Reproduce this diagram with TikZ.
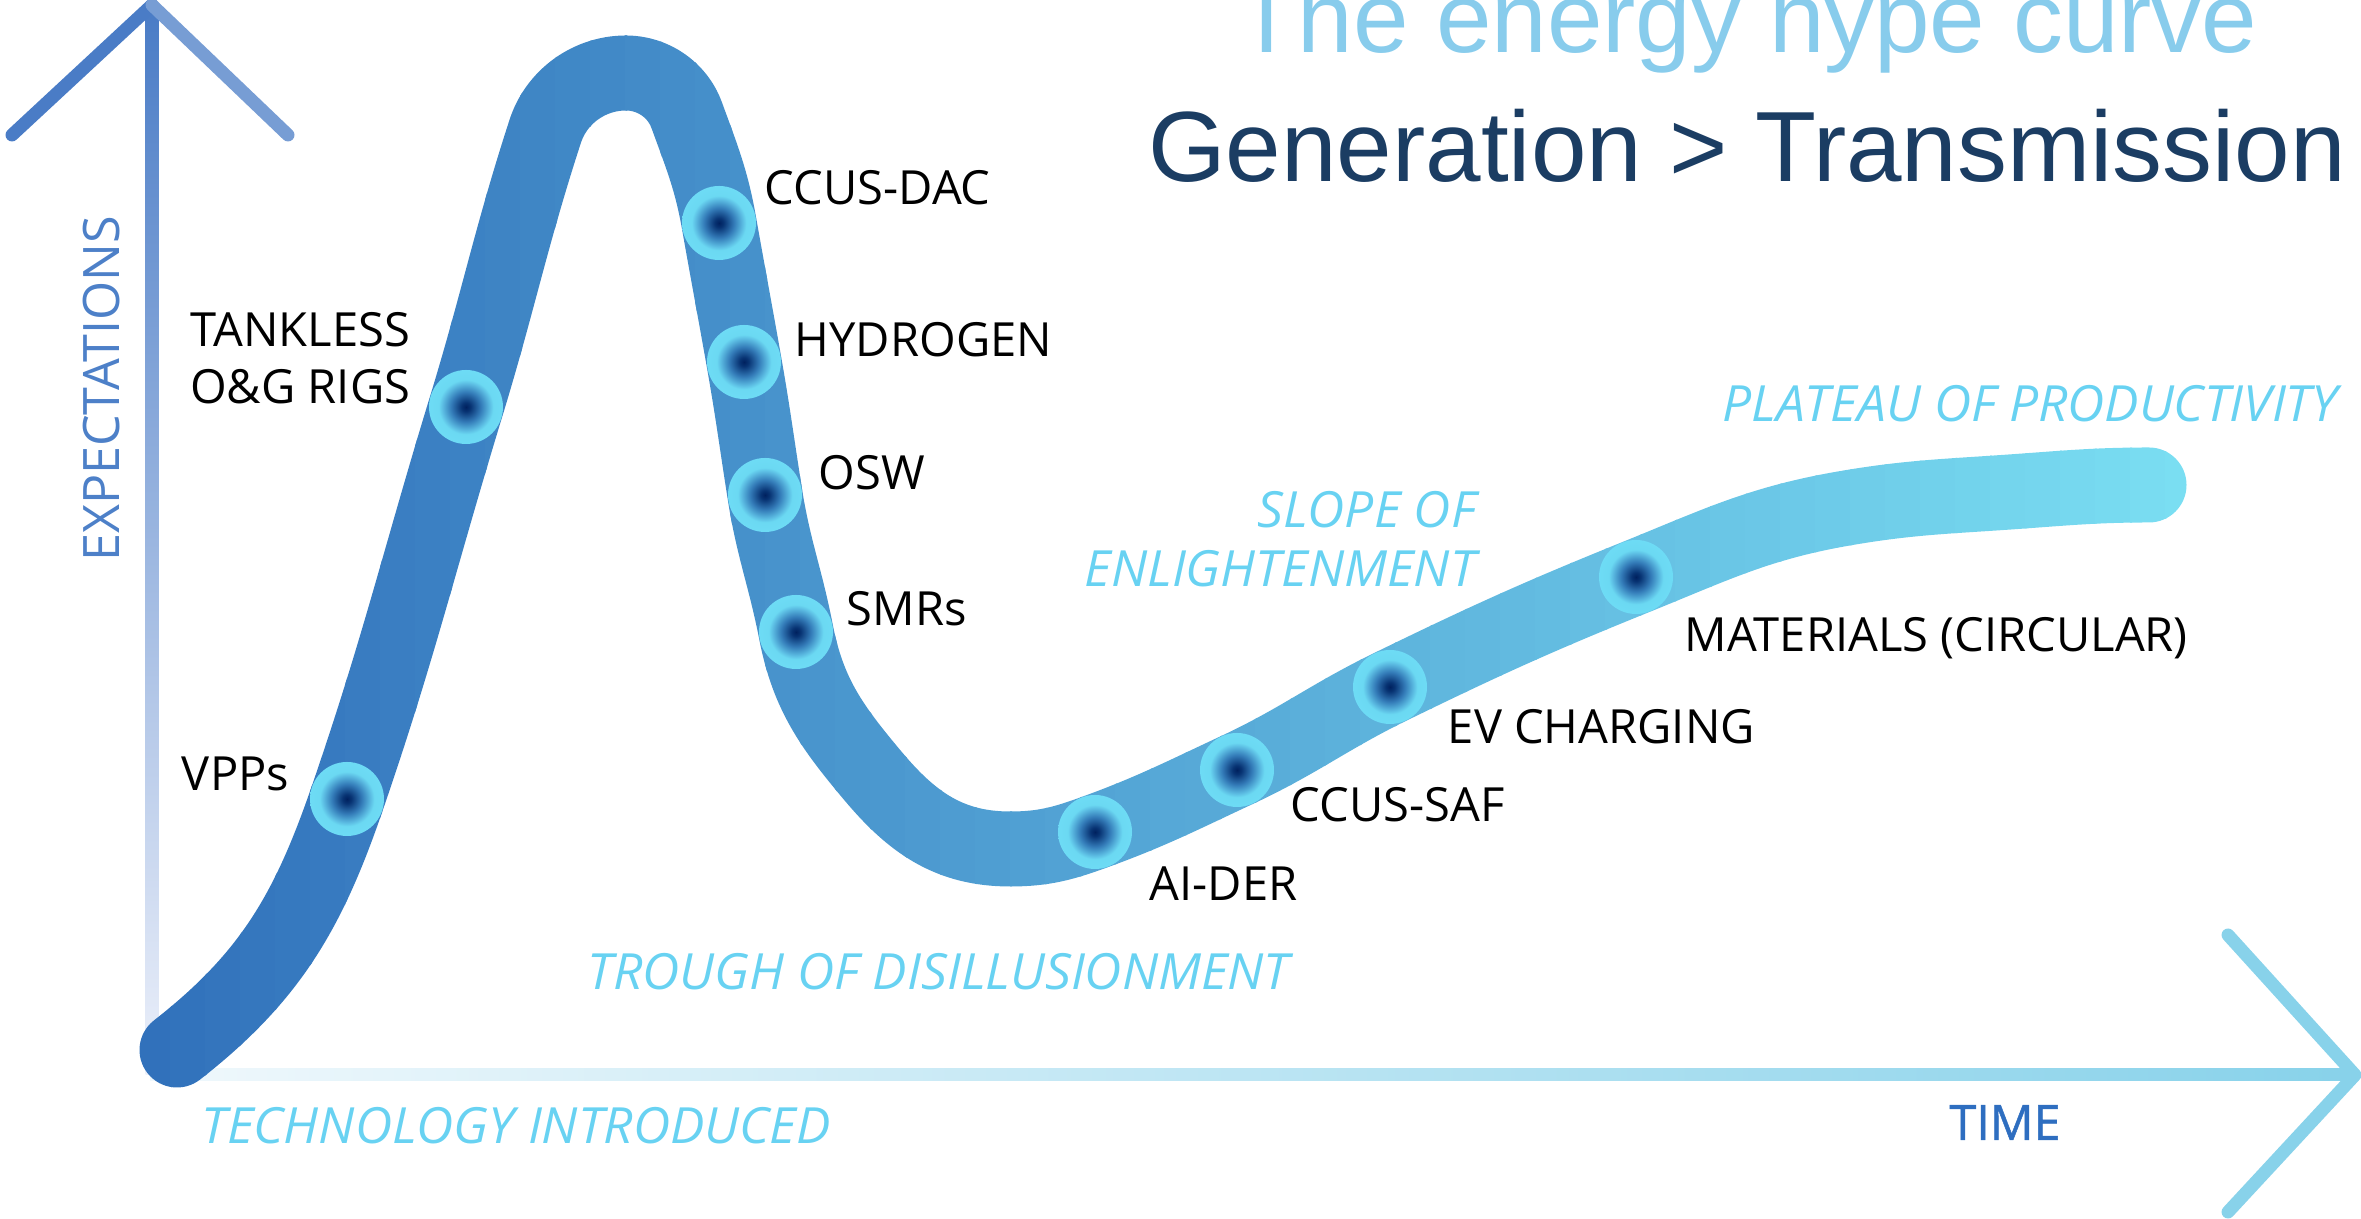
\documentclass[tikz,border=0pt]{standalone}
\usepackage{fontspec}
\usepackage{tikz}
\usetikzlibrary{positioning, calc}

\newfontfamily\hypelabel{Open Sans}
\newfontfamily\hypephase[FakeStretch=1.03]{Open Sans}
\newfontfamily\hypetime[FakeBold=1]{Open Sans}
\newfontfamily\hypehead{Liberation Sans}

\definecolor{curveStart}{RGB}{49,113,187}
\definecolor{curveEnd}{RGB}{122,222,242}
\definecolor{phaseCyan}{RGB}{104,210,242}
\definecolor{yAxisTop}{RGB}{74,124,198}
\definecolor{yAxisLow}{RGB}{236,240,250}
\definecolor{xAxisLow}{RGB}{240,248,252}
\definecolor{xAxisTop}{RGB}{136,210,234}
\definecolor{expBlue}{RGB}{77,128,200}
\definecolor{timeBlue}{RGB}{46,110,192}
\definecolor{titleSky}{RGB}{136,204,236}
\definecolor{titleNavy}{RGB}{27,61,99}

\pgfdeclareradialshading{dotglow}{\pgfpoint{0bp}{0bp}}{rgb(0bp)=(0,0.13,0.37); rgb(3bp)=(0.03,0.2,0.45); rgb(10bp)=(0.2,0.48,0.72); rgb(16bp)=(0.36,0.74,0.89); rgb(18.5bp)=(0.42,0.85,0.95); rgb(25bp)=(0.43,0.86,0.96); rgb(50bp)=(0.43,0.86,0.96)}

\newcommand{\hypecurve}{(1.77,1.69) to[out=38, in=251] (3.47,4.20) to[out=71, in=253] (4.66,8.12) to[out=73, in=252] (5.45,10.87) .. controls (5.56,11.22) and (5.89,11.46) .. (6.26,11.46) .. controls (6.53,11.46) and (6.78,11.29) .. (6.87,11.03) to[out=-70, in=100] (7.19,9.96) to[out=-80, in=100] (7.44,8.57) to[out=-80, in=99] (7.65,7.24) to[out=-81, in=101] (7.96,5.87) to[out=-79, in=130] (8.73,4.43) to[out=-50, in=180] (10.10,3.70) to[out=0, in=200] (10.95,3.87) to[out=20, in=205] (12.37,4.49) to[out=25, in=206] (13.90,5.32) to[out=26, in=202] (16.36,6.42) to[out=22, in=190] (18.41,7.10) to[out=10, in=184] (20.10,7.27) to[out=4, in=180] (21.49,7.34)}

\begin{document}
\begin{tikzpicture}[>=latex, thick, inner sep=0pt,
	band/.style={line width=0.75cm, line cap=round, line join=round},
	hypedot/.style={circle, minimum size=0.74cm, shade, shading=dotglow},
	tech/.style={font=\hypelabel\fontsize{13.4}{16.2}\selectfont, text=black},
	phase/.style={font=\hypephase\itshape\fontsize{14.2}{16.8}\selectfont, text=phaseCyan},
	wing/.style={line width=1.3mm, line cap=round, line join=round}]
	\useasboundingbox (0,0) rectangle (23.61,12.19);

	\coordinate (ytip) at (1.52,12.14);
	\coordinate (yleft) at (0.12,10.84);
	\coordinate (yright) at (2.88,10.84);
	\coordinate (xtip) at (23.55,1.44);
	\coordinate (xup) at (22.28,2.84);
	\coordinate (xdown) at (22.28,0.07);

	\shade[top color=yAxisTop, bottom color=yAxisLow] (1.455,1.44) rectangle (1.585,12.10);
	\draw[wing, yAxisTop] (yleft) -- (ytip);
	\draw[wing, yAxisTop!75!white] (ytip) -- (yright);

	\shade[left color=xAxisLow, right color=xAxisTop] (1.50,1.38) rectangle (23.50,1.50);
	\draw[wing, xAxisTop] (xup) -- (xtip) -- (xdown);

	\foreach \i in {0,...,58}{
		\pgfmathsetmacro{\xa}{1.35+0.35*\i}
		\pgfmathsetmacro{\xb}{\xa+0.37}
		\pgfmathsetmacro{\shadepct}{100*\i/58}
		\begin{scope}
			\clip (\xa,0) rectangle (\xb,12.19);
			\draw[band, draw=curveEnd!\shadepct!curveStart] \hypecurve;
		\end{scope}
	}

	\node[hypedot] (vpps) at (3.47,4.20) {};
	\node[hypedot] (tankless) at (4.66,8.12) {};
	\node[hypedot] (ccusdac) at (7.19,9.96) {};
	\node[hypedot] (hydrogen) at (7.44,8.57) {};
	\node[hypedot] (osw) at (7.65,7.24) {};
	\node[hypedot] (smrs) at (7.96,5.87) {};
	\node[hypedot] (aider) at (10.95,3.87) {};
	\node[hypedot] (ccussaf) at (12.37,4.49) {};
	\node[hypedot] (evcharging) at (13.90,5.32) {};
	\node[hypedot] (materials) at (16.36,6.42) {};

	\node[tech, left=0.18cm of vpps.west, yshift=0.25cm] (vppsL) {VPPs};
	\node[tech, align=right, left=0.16cm of tankless.west, yshift=0.49cm] (tanklessL) {TANKLESS\\O\&G RIGS};
	\node[tech, right=0.06cm of ccusdac.east, yshift=0.35cm] (ccusdacL) {CCUS-DAC};
	\node[tech, right=0.11cm of hydrogen.east, yshift=0.22cm] (hydrogenL) {HYDROGEN};
	\node[tech, right=0.14cm of osw.east, yshift=0.22cm] (oswL) {OSW};
	\node[tech, right=0.11cm of smrs.east, yshift=0.23cm] (smrsL) {SMRs};
	\node[tech, right=0.15cm of aider.east, yshift=-0.52cm] (aiderL) {AI-DER};
	\node[tech, right=0.14cm of ccussaf.east, yshift=-0.35cm] (ccussafL) {CCUS-SAF};
	\node[tech, right=0.18cm of evcharging.east, yshift=-0.40cm] (evchargingL) {EV CHARGING};
	\node[tech, right=0.09cm of materials.east, yshift=-0.61cm] (materialsL) {MATERIALS (CIRCULAR)};

	\node[phase, anchor=west] (introduced) at (2.00,0.935) {TECHNOLOGY INTRODUCED};
	\node[phase, anchor=east] (trough) at (12.91,2.47) {TROUGH OF DISILLUSIONMENT};
	\node[phase, align=right, anchor=east] (slope) at (14.77,6.80) {SLOPE OF\\ENLIGHTENMENT};
	\node[phase, anchor=east] (plateau) at (23.39,8.15) {PLATEAU OF PRODUCTIVITY};

	\node[font=\hypelabel\fontsize{14.3}{17}\selectfont, text=expBlue, rotate=90] (expectations) at (1.015,8.30) {EXPECTATIONS};
	\node[font=\hypetime\fontsize{13.8}{16}\selectfont, text=timeBlue] (time) at (20.05,0.965) {TIME};

	\node[font=\hypehead\fontsize{28.4}{34}\selectfont, text=titleSky, anchor=base] (title) at (17.47,11.66) {The energy hype curve};
	\node[font=\hypehead\fontsize{28.4}{34}\selectfont, text=titleNavy, anchor=base] (subtitle) at (17.47,10.37) {Generation > Transmission};
\end{tikzpicture}
\end{document}
